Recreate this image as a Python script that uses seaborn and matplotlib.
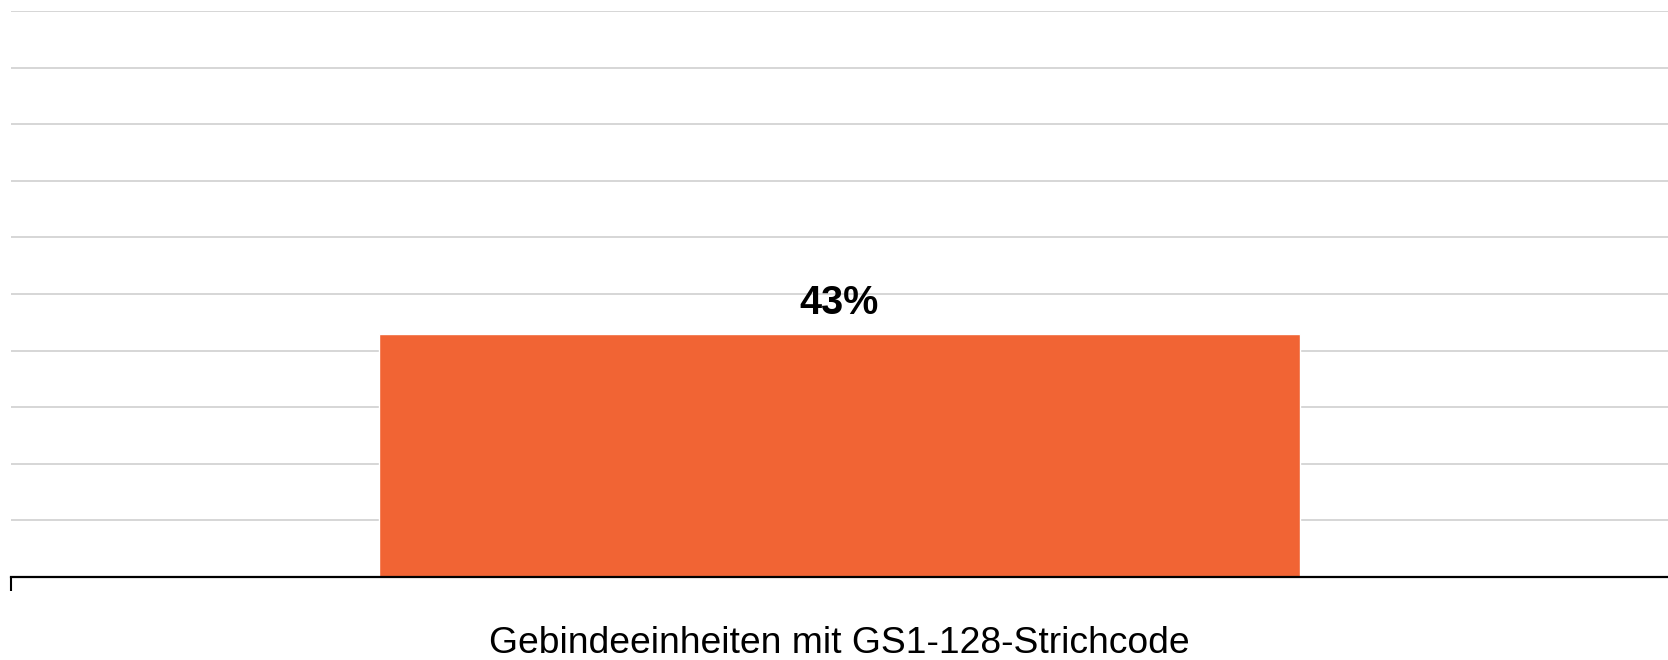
import numpy as np
import pandas as pd
import matplotlib
matplotlib.use('Agg')
import matplotlib.pyplot as plt
import seaborn as sns

# Daten
categories = ['Gebindeeinheiten mit GS1-128-Strichcode']
values = [0.43]
value_labels = ['43%']

df = pd.DataFrame({'Kategorie': categories, 'Anteil': values})

sns.set_style('white')
plt.rcParams['font.family'] = ['Liberation Sans', 'DejaVu Sans']
plt.rcParams['text.color'] = 'black'
plt.rcParams['xtick.color'] = 'black'

fig = plt.figure(figsize=(16.68, 6.6), dpi=100)
ax = fig.add_axes([11 / 1668, 83 / 660, 1 - 11 / 1668, (577 - 11) / 660])

sns.barplot(data=df, x='Kategorie', y='Anteil', color='#F16434', width=0.556,
            saturation=1, ax=ax, zorder=3)

ax.set_xlim(-0.5, 0.5)
ax.set_ylim(0, 1)
ax.set_yticks(np.arange(0, 1.01, 0.1))
ax.set_yticklabels([])
ax.yaxis.grid(True, color='#d0d0d0', linewidth=1.2, zorder=0)
ax.tick_params(axis='y', length=0)

for s in ['left', 'top', 'right']:
    ax.spines[s].set_visible(False)
ax.spines['bottom'].set_color('black')
ax.spines['bottom'].set_linewidth(1.6)
ax.spines['bottom'].set_zorder(4)

ax.set_xlabel('')
ax.set_ylabel('')
ax.tick_params(axis='x', which='major', length=0, labelsize=26.8, pad=35,
               labelcolor='black')
ax.set_xticks([-0.5], minor=True)
ax.tick_params(axis='x', which='minor', bottom=True, length=10, width=1.5,
               color='black')

for bar, lab in zip(ax.patches, value_labels):
    ax.annotate(lab, (bar.get_x() + bar.get_width() / 2, bar.get_height()),
                xytext=(0, 8.5), textcoords='offset points',
                ha='center', va='bottom', fontsize=28.5, fontweight='bold',
                color='black')

fig.savefig('out.png', dpi=100)
